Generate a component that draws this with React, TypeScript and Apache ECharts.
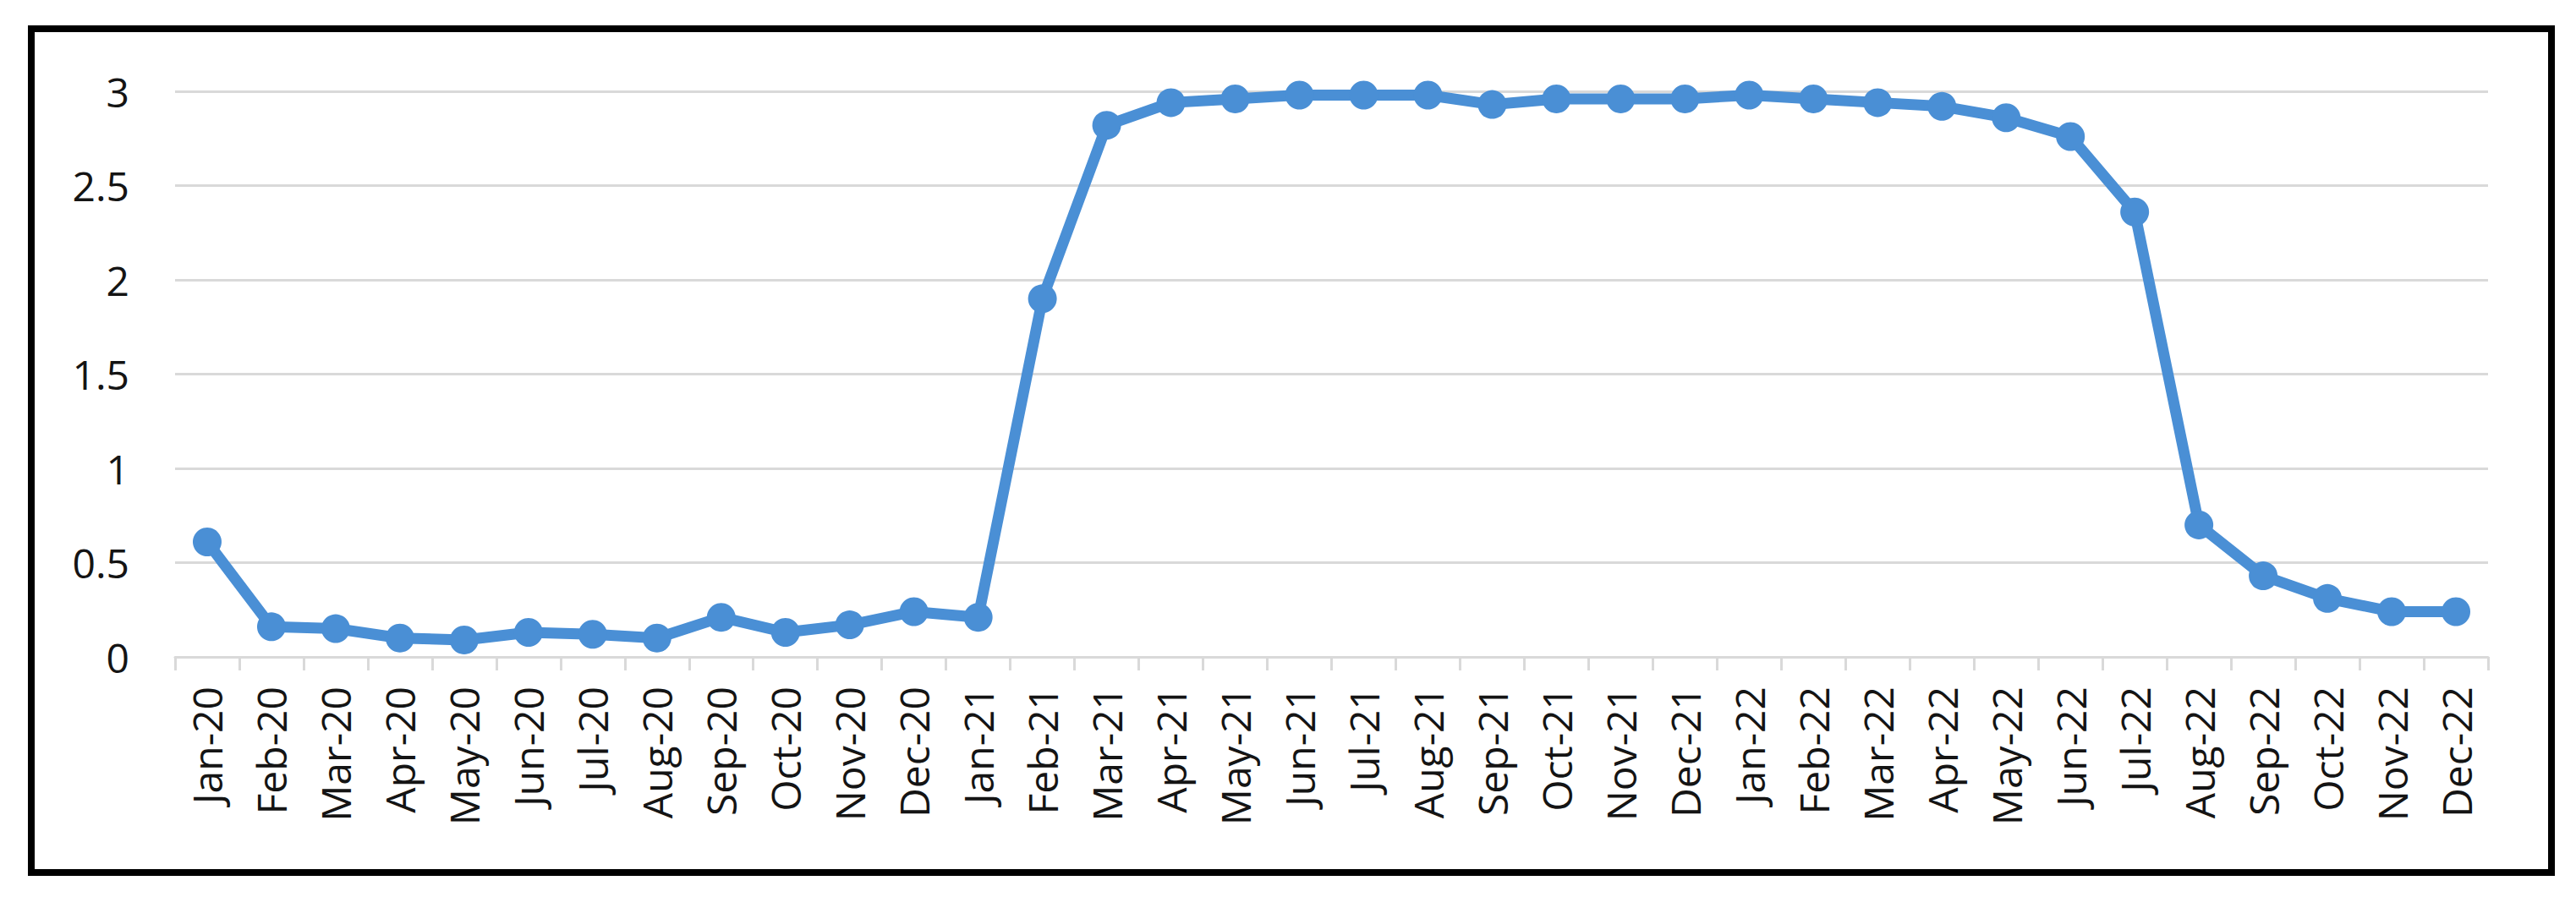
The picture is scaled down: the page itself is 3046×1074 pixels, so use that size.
import React, { useEffect, useRef } from "react";
import * as echarts from "echarts";

const categories = [
  "Jan-20", "Feb-20", "Mar-20", "Apr-20", "May-20", "Jun-20", "Jul-20", "Aug-20", "Sep-20", "Oct-20", "Nov-20", "Dec-20",
  "Jan-21", "Feb-21", "Mar-21", "Apr-21", "May-21", "Jun-21", "Jul-21", "Aug-21", "Sep-21", "Oct-21", "Nov-21", "Dec-21",
  "Jan-22", "Feb-22", "Mar-22", "Apr-22", "May-22", "Jun-22", "Jul-22", "Aug-22", "Sep-22", "Oct-22", "Nov-22", "Dec-22",
];

const values = [
  0.61, 0.16, 0.15, 0.10, 0.09, 0.13, 0.12, 0.10, 0.21, 0.13, 0.17, 0.24,
  0.21, 1.90, 2.82, 2.94, 2.96, 2.98, 2.98, 2.98, 2.93, 2.96, 2.96, 2.96,
  2.98, 2.96, 2.94, 2.92, 2.86, 2.76, 2.36, 0.70, 0.43, 0.31, 0.24, 0.24,
];

const yMin = 0;
const yMax = 3;
const yInterval = 0.5;

export default function App() {
  const ref = useRef<HTMLDivElement>(null);
  useEffect(() => {
    document.body.style.margin = "0";
    const chart = echarts.init(ref.current!, undefined, { renderer: "svg" });
    const font = "'Open Sans', 'Liberation Sans', sans-serif";
    chart.setOption({
      animation: false,
      backgroundColor: "#ffffff",
      grid: { left: 207, right: 104, top: 108, bottom: 297, containLabel: false },
      xAxis: {
        type: "category",
        data: categories,
        boundaryGap: true,
        axisLine: { show: true, lineStyle: { color: "#d9d9d9", width: 3 } },
        axisTick: { show: true, length: 16, lineStyle: { color: "#d9d9d9", width: 3 } },
        axisLabel: {
          rotate: 90,
          interval: 0,
          margin: 35,
          fontSize: 48,
          fontFamily: font,
          color: "#141414",
        },
        splitLine: { show: false },
      },
      yAxis: {
        type: "value",
        min: yMin,
        max: yMax,
        interval: yInterval,
        axisLine: { show: false },
        axisTick: { show: false },
        axisLabel: {
          margin: 54,
          fontSize: 48,
          fontFamily: font,
          color: "#141414",
        },
        splitLine: { show: true, lineStyle: { color: "#d9d9d9", width: 3 } },
      },
      series: [
        {
          type: "line",
          data: values,
          symbol: "circle",
          symbolSize: 34,
          showSymbol: true,
          lineStyle: { color: "#4a8fd5", width: 13 },
          itemStyle: { color: "#4a8fd5" },
        },
      ],
      graphic: [
        {
          type: "rect",
          shape: { x: 37, y: 34, width: 2980, height: 998 },
          style: { fill: "none", stroke: "#000000", lineWidth: 8 },
          silent: true,
        },
      ],
    });
    return () => chart.dispose();
  }, []);
  return <div ref={ref} style={{ width: 3046, height: 1074 }} />;
}
